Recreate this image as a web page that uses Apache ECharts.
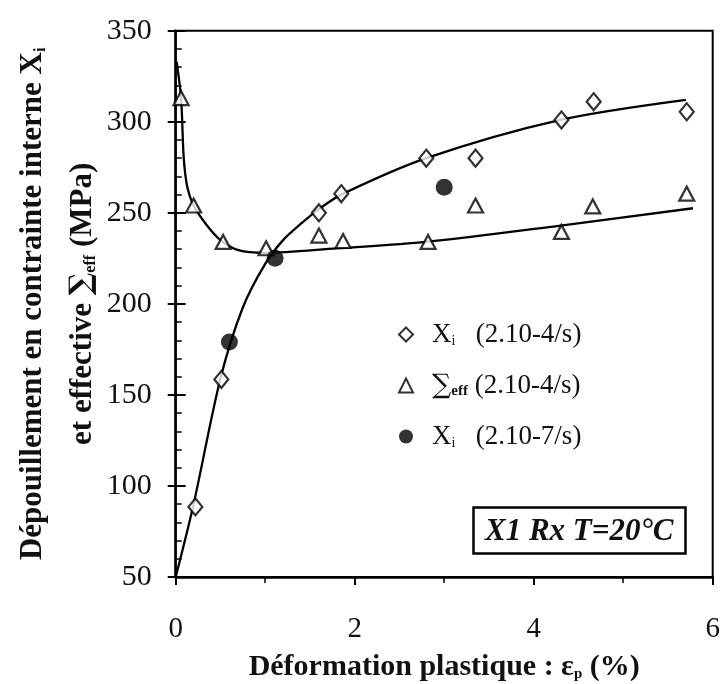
<!DOCTYPE html>
<html>
<head>
<meta charset="utf-8">
<script src="https://cdn.jsdelivr.net/npm/echarts@6/dist/echarts.min.js"></script>
<style>
html,body{margin:0;padding:0;background:#fff;}
#chart{width:720px;height:684px;}
</style>
</head>
<body>
<div id="chart"></div>
<script>
// ---- data ----
var xTicks = [0, 2, 4, 6];
var yTicks = [50, 100, 150, 200, 250, 300, 350];

var xiFastX = [0.22, 0.51, 1.6, 1.85, 2.8, 3.35, 4.31, 4.67, 5.71];
var xiFastY = [88.5, 158.5, 250, 260.5, 280, 280, 301, 311, 305.5];

var sigX = [0.06, 0.2, 0.53, 1.01, 1.6, 1.87, 2.82, 3.35, 4.31, 4.66, 5.71];
var sigY = [313, 254, 234, 230.5, 237.5, 234.5, 234, 254, 239.5, 253.5, 260.5];

var xiSlowX = [0.6, 1.11, 3.0];
var xiSlowY = [179, 225, 264];

// fitted curves
var xiCurveX = [0, 0.2, 0.5, 0.75, 1.0, 1.2, 1.4, 1.6, 1.85, 2.8, 4.3, 5.7];
var xiCurveY = [50, 90, 159, 198, 222, 235, 244, 252, 260, 280, 301, 312];

var sigCurveX = [0.01, 0.06, 0.09, 0.13, 0.2, 0.35, 0.5, 0.7, 1.0, 1.8, 2.8, 4.3, 5.78];
var sigCurveY = [333, 313, 280, 264, 254, 243, 235, 229.5, 228, 230.5, 234, 243, 252.5];

var names = ['Xi (2.10-4/s)', 'Σeff (2.10-4/s)', 'Xi (2.10-7/s)'];

function pairs(xs, ys) { return xs.map(function (x, i) { return [x, ys[i]]; }); }

var FONT = '"Liberation Serif", "Times New Roman", "DejaVu Serif", serif';

var chart = echarts.init(document.getElementById('chart'), null, {renderer: 'canvas'});

var richLegend = {
  m: {fontFamily: FONT, fontSize: 27, color: '#111'},
  s: {fontFamily: FONT, fontSize: 14, color: '#111', verticalAlign: 'bottom', padding: [12, 0, 0, 0]},
  sb: {fontFamily: FONT, fontSize: 15, fontWeight: 'bold', color: '#111', verticalAlign: 'bottom', padding: [12, 0, 0, 0]},
  sig: {fontFamily: '"DejaVu Serif", serif', fontSize: 27, color: '#111'}
};

var option = {
  backgroundColor: '#fff',
  animation: false,
  grid: {left: 175.7, right: 7.3, top: 30.7, bottom: 107, show: true, borderColor: '#000', borderWidth: 2,
    containLabel: false, outerBoundsMode: 'none'},
  title: {
    text: 'X1 Rx T=20°C',
    left: 473, top: 507,
    padding: [9, 12, 7, 12],
    borderColor: '#000', borderWidth: 2.5,
    backgroundColor: '#fff',
    textStyle: {fontFamily: FONT, fontSize: 31, fontWeight: 'bold', fontStyle: 'italic', color: '#111'}
  },
  legend: {
    data: names,
    orient: 'vertical',
    left: 393, top: 316,
    itemWidth: 14, itemHeight: 14,
    itemGap: 24,
    textStyle: {fontFamily: FONT, fontSize: 27, color: '#111', padding: [0, 0, 0, 14], rich: richLegend},
    formatter: function (n) {
      if (n === names[0]) return '{m|X}{s|i}{m|   (2.10-4/s)}';
      if (n === names[1]) return '{sig|∑}{sb|eff}{m| (2.10-4/s)}';
      return '{m|X}{s|i}{m|   (2.10-7/s)}';
    }
  },
  xAxis: [{
    type: 'value', min: 0, max: 6, interval: 2,
    axisLine: {lineStyle: {color: '#000', width: 2.5}},
    axisTick: {inside: false, length: 8, lineStyle: {color: '#000', width: 2}},
    minorTick: {show: true, splitNumber: 2, length: 6, lineStyle: {color: '#000', width: 1.5}},
    splitLine: {show: false},
    axisLabel: {margin: 38, fontFamily: FONT, fontSize: 29, color: '#111',
      formatter: function (v) { return xTicks.indexOf(v) >= 0 ? String(v) : ''; }},
    name: 'Déformation plastique : {e|ε}{s|p} (%)',
    nameLocation: 'middle', nameGap: 75, nameMoveOverlap: false,
    nameTextStyle: {fontFamily: FONT, fontSize: 30, fontWeight: 'bold', color: '#111',
      rich: {
        e: {fontFamily: FONT, fontSize: 30, fontWeight: 'bold', color: '#111'},
        s: {fontFamily: FONT, fontSize: 15, fontWeight: 'bold', color: '#111', verticalAlign: 'bottom', padding: [10, 0, 0, 0]}
      }}
  }],
  yAxis: [{
    type: 'value', min: 50, max: 350, interval: 50,
    axisLine: {lineStyle: {color: '#000', width: 2.5}},
    axisTick: {inside: false, length: 8, lineStyle: {color: '#000', width: 2}},
    minorTick: {show: false},
    splitLine: {show: false},
    axisLabel: {margin: 24, fontFamily: FONT, fontSize: 30, color: '#111',
      formatter: function (v) { return yTicks.indexOf(v) >= 0 ? String(v) : ''; }},
    name: '{b|Dépouillement en contrainte interne X}{bs|i}\n{b|et effective }{sig|∑}{bs|eff}{b| (MPa)}',
    nameLocation: 'middle', nameGap: 68, nameRotate: 90, nameMoveOverlap: false,
    nameTextStyle: {fontFamily: FONT, fontSize: 31, fontWeight: 'bold', color: '#111', lineHeight: 50,
      rich: {
        b: {fontFamily: FONT, fontSize: 31, fontWeight: 'bold', color: '#111', lineHeight: 50},
        bs: {fontFamily: FONT, fontSize: 16, fontWeight: 'bold', color: '#111', verticalAlign: 'middle', lineHeight: 18, padding: [16, 0, 0, 0]},
        sig: {fontFamily: '"DejaVu Serif", serif', fontSize: 30, color: '#111', lineHeight: 50}
      }}
  }, {
    type: 'value', min: 50, max: 350, interval: 50, position: 'left',
    axisLine: {show: false},
    axisTick: {inside: true, length: 10, lineStyle: {color: '#000', width: 2}},
    minorTick: {show: true, splitNumber: 5, length: 6, lineStyle: {color: '#000', width: 1.5}},
    splitLine: {show: false},
    axisLabel: {show: false}
  }],
  series: [
    {type: 'line', data: pairs(xiCurveX, xiCurveY), smooth: 0.3, showSymbol: false, silent: true,
      lineStyle: {color: '#000', width: 2.3}, z: 2},
    {type: 'line', data: pairs(sigCurveX, sigCurveY), smooth: 0.3, showSymbol: false, silent: true,
      lineStyle: {color: '#000', width: 2.3}, z: 2},
    {name: names[0], type: 'scatter', data: pairs(xiFastX, xiFastY), symbol: 'diamond', symbolSize: [14, 17],
      itemStyle: {color: '#fff', borderColor: '#000', borderWidth: 2.2}, z: 5},
    {name: names[1], type: 'scatter', data: pairs(sigX, sigY), symbol: 'triangle', symbolSize: [15, 14],
      itemStyle: {color: '#fff', borderColor: '#000', borderWidth: 2.2}, z: 5},
    {name: names[2], type: 'scatter', data: pairs(xiSlowX, xiSlowY), symbol: 'circle', symbolSize: 17,
      itemStyle: {color: '#000', borderColor: '#000', borderWidth: 0}, z: 6}
  ]
};
chart.setOption(option);
</script>
</body>
</html>
